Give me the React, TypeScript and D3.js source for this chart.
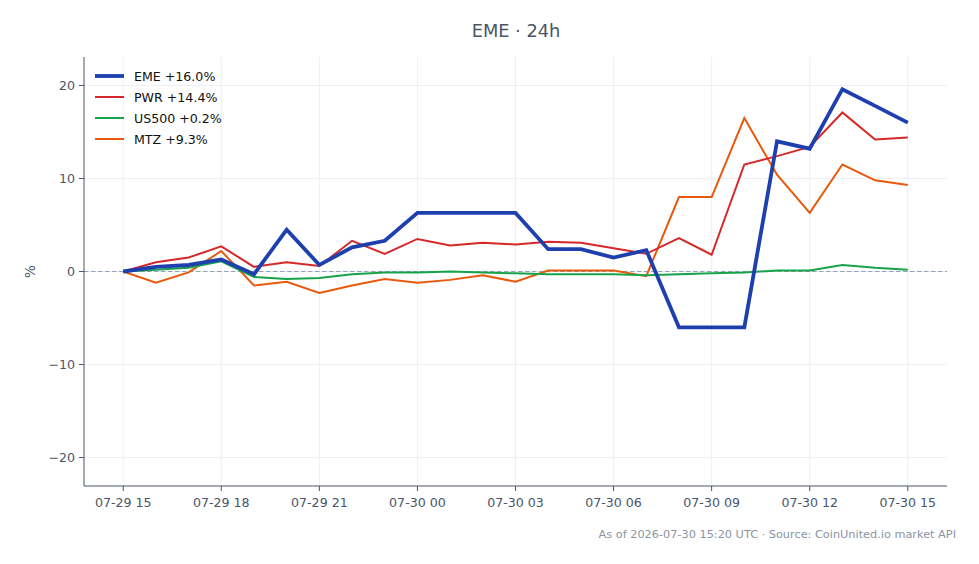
import React from "react";
import * as d3 from "d3";

const hours = d3.range(25);
const tickHours = [0, 3, 6, 9, 12, 15, 18, 21, 24];
const tickLabels = ["07-29 15", "07-29 18", "07-29 21", "07-30 00", "07-30 03", "07-30 06", "07-30 09", "07-30 12", "07-30 15"];
const yTicks = [-20, -10, 0, 10, 20];

const emeValues = [0, 0.5, 0.7, 1.3, -0.3, 4.5, 0.7, 2.6, 3.3, 6.3, 6.3, 6.3, 6.3, 2.4, 2.4, 1.5, 2.3, -6.0, -6.0, -6.0, 14.0, 13.2, 19.6, 17.8, 16.0];
const pwrValues = [0, 1.0, 1.5, 2.7, 0.5, 1.0, 0.6, 3.3, 1.9, 3.5, 2.8, 3.1, 2.9, 3.2, 3.1, 2.5, 1.9, 3.6, 1.8, 11.5, 12.4, 13.4, 17.1, 14.2, 14.4];
const us500Values = [0, 0.2, 0.4, 1.1, -0.6, -0.8, -0.7, -0.3, -0.1, -0.1, 0.0, -0.1, -0.2, -0.3, -0.3, -0.3, -0.4, -0.3, -0.2, -0.1, 0.1, 0.1, 0.7, 0.4, 0.2];
const mtzValues = [0, -1.2, -0.1, 2.2, -1.5, -1.1, -2.3, -1.5, -0.8, -1.2, -0.9, -0.4, -1.1, 0.1, 0.1, 0.1, -0.5, 8.0, 8.0, 16.5, 10.4, 6.3, 11.5, 9.8, 9.3];

const seriesNames = ["EME +16.0%", "PWR +14.4%", "US500 +0.2%", "MTZ +9.3%"];
const seriesColors = ["#1e40af", "#d62828", "#16a34a", "#e8590c"];
const seriesWidths = [3.8, 2, 2, 2];
const seriesData = [emeValues, pwrValues, us500Values, mtzValues];

export default function App() {
  const W = 979, H = 564;
  const left = 84, right = 947, top = 57, bottom = 486;
  const x = d3.scaleLinear().domain([-1.2, 25.2]).range([left, right]);
  const y = d3.scaleLinear().domain([-23.06, 23.06]).range([bottom, top]);
  const line = d3.line<number>().x((_, i) => x(hours[i])).y((v) => y(v));
  const font = "DejaVu Sans, sans-serif";
  const axisColor = "#4a5568";
  const order = [3, 2, 1, 0];
  return (
    <svg width={W} height={H} style={{ position: "absolute", left: 0, top: 0, background: "#fff" }} fontFamily={font}>
      <rect width={W} height={H} fill="#fff" />
      {tickHours.map((h) => (
        <line key={"gx" + h} x1={x(h)} x2={x(h)} y1={top} y2={bottom} stroke="#e8ebf0" strokeWidth={0.8} />
      ))}
      {yTicks.map((t) => (
        <line key={"gy" + t} x1={left} x2={right} y1={y(t)} y2={y(t)} stroke="#e8ebf0" strokeWidth={0.8} />
      ))}
      <line x1={left} x2={right} y1={y(0)} y2={y(0)} stroke="#94a3b8" strokeWidth={1} strokeDasharray="4.5,2.5" />
      {order.map((i) => (
        <path key={i} d={line(seriesData[i]) || ""} fill="none" stroke={seriesColors[i]} strokeWidth={seriesWidths[i]} strokeLinejoin="miter" />
      ))}
      <line x1={left} x2={left} y1={top} y2={bottom} stroke={axisColor} strokeWidth={1} />
      <line x1={left} x2={right} y1={bottom} y2={bottom} stroke={axisColor} strokeWidth={1} />
      {tickHours.map((h, i) => (
        <g key={"tx" + h}>
          <line x1={x(h)} x2={x(h)} y1={bottom} y2={bottom + 5} stroke={axisColor} />
          <text x={x(h)} y={bottom + 21} textAnchor="middle" fontSize={12.6} fill={axisColor}>{tickLabels[i]}</text>
        </g>
      ))}
      {yTicks.map((t) => (
        <g key={"ty" + t}>
          <line x1={left - 5} x2={left} y1={y(t)} y2={y(t)} stroke={axisColor} />
          <text x={left - 9} y={y(t) + 4.5} textAnchor="end" fontSize={12.6} fill={axisColor}>{t < 0 ? "\u2212" + Math.abs(t) : String(t)}</text>
        </g>
      ))}
      <text transform={`translate(35,${y(0)}) rotate(-90)`} textAnchor="middle" fontSize={13.5} fill={axisColor}>%</text>
      <text x={516} y={37} textAnchor="middle" fontSize={17.8} fill={axisColor}>EME · 24h</text>
      {seriesNames.map((n, i) => (
        <g key={"lg" + i}>
          <line x1={95} x2={124} y1={76 + i * 21} y2={76 + i * 21} stroke={seriesColors[i]} strokeWidth={seriesWidths[i]} />
          <text x={134} y={80.5 + i * 21} fontSize={12.6} fill="#111">{n}</text>
        </g>
      ))}
      <text x={956} y={538} textAnchor="end" fontSize={11.3} fill="#8a94a3">As of 2026-07-30 15:20 UTC · Source: CoinUnited.io market API</text>
    </svg>
  );
}
